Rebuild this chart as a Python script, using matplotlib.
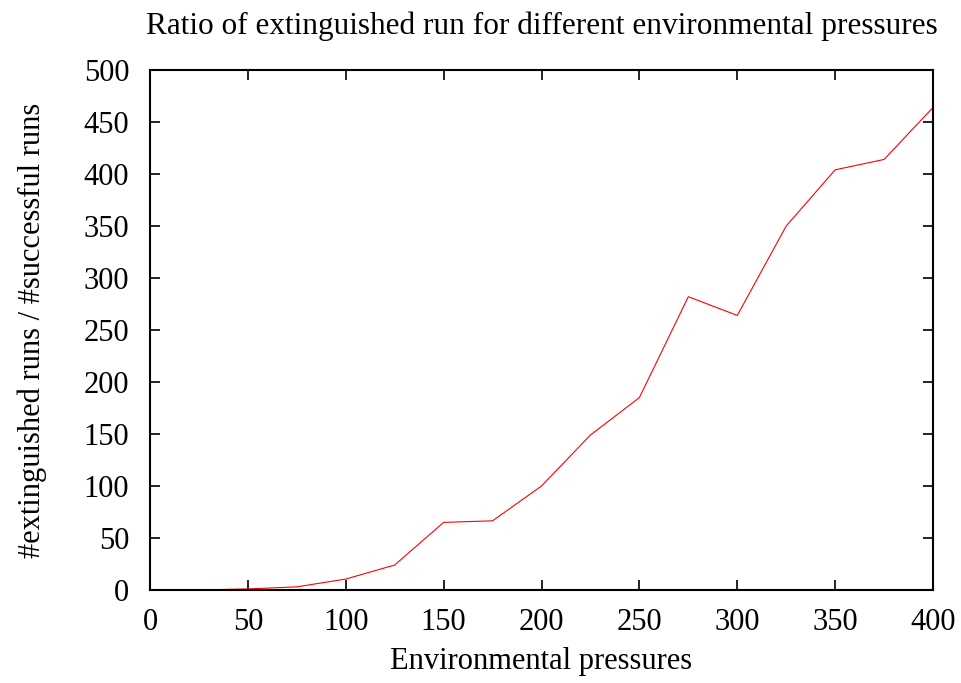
import matplotlib.pyplot as plt

pressures = [25, 50, 75, 100, 125, 150, 175, 200, 225, 250, 275, 300, 325, 350, 375, 400]
ratios = [0, 1, 3, 10.5, 24, 65, 66.5, 100, 149, 185, 282, 264, 350, 404, 414, 464]

plt.rcParams["font.family"] = ["Liberation Serif", "DejaVu Serif"]

fig = plt.figure(figsize=(9.62, 6.83), dpi=100)
ax = fig.add_axes([0.1559, 0.1362, 0.8140, 0.7613])

ax.plot(pressures, ratios, color="red", lw=0.8)

ax.set_xlim(0, 400)
ax.set_ylim(0, 500)
ax.set_xticks(range(0, 401, 50))
ax.set_yticks(range(0, 501, 50))
ax.tick_params(direction="in", top=True, right=True, length=7, width=1.2,
               labelsize=22)
ax.tick_params(axis="x", pad=13)
ax.tick_params(axis="y", pad=15)
for s in ax.spines.values():
    s.set_linewidth(1.5)

ax.set_title("Ratio of extinguished run for different environmental pressures",
             fontsize=22.5, pad=26)
ax.set_xlabel("Environmental pressures", fontsize=22, labelpad=7)
ax.set_ylabel("#extinguished runs / #successful runs", fontsize=22, labelpad=26)

fig.savefig("out.png", dpi=100)
